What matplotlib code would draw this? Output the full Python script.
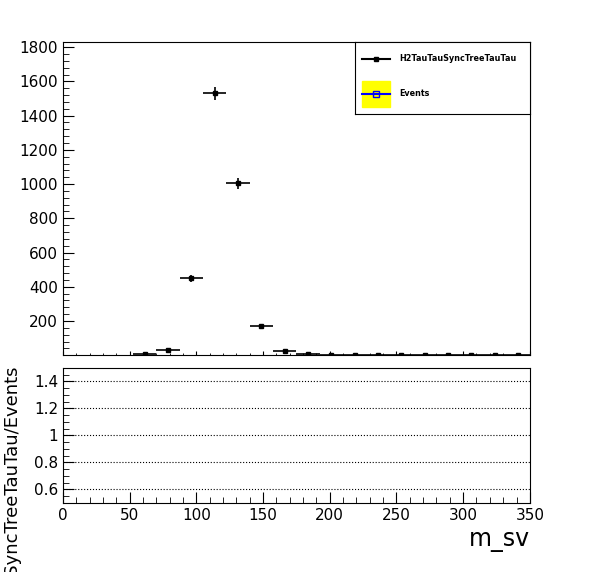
import numpy as np
import matplotlib.pyplot as plt
from matplotlib.patches import Rectangle
from matplotlib.lines import Line2D

# binned m_sv distribution, 20 bins of 17.5 from 0 to 350
bin_width = 17.5
bin_centers = np.arange(20) * bin_width + bin_width / 2
counts = [0, 0, 0, 5, 30, 450, 1530, 1005, 170, 25, 5, 3, 2, 2, 2, 0, 0, 0, 0, 0]
ratio_grid = [0.6, 0.8, 1.0, 1.2, 1.4]

fig = plt.figure(figsize=(5.96, 5.72), dpi=100)
ax1 = fig.add_axes([0.1057, 0.379, 0.7833, 0.5476])
ax2 = fig.add_axes([0.1057, 0.1206, 0.7833, 0.2364])

counts = np.array(counts, dtype=float)
mask = bin_centers > 50
ax1.errorbar(bin_centers[mask], counts[mask], xerr=bin_width / 2, yerr=np.sqrt(counts[mask]),
             fmt='s', color='black', ms=3, lw=1.2, capsize=0)
ax1.set_xlim(0, 350)
ax1.set_ylim(0, 1830)
ax1.set_yticks(range(200, 1801, 200))
ax1.set_yticks(range(0, 1830, 40), minor=True)
ax1.set_xticks(range(0, 351, 50))
ax1.set_xticks(range(0, 351, 10), minor=True)
ax1.set_xticklabels([])
ax1.tick_params(which='both', direction='in', top=False, right=False, labelsize=11)
ax1.tick_params(axis='y', which='major', length=8)
ax1.tick_params(axis='y', which='minor', length=4)
ax1.tick_params(axis='x', which='major', length=3)
ax1.tick_params(axis='x', which='minor', length=1.5)

# legend box drawn like ROOT
leg = fig.add_axes([355 / 596, 1 - 114 / 572, 175 / 596, 72 / 572])
leg.set_xlim(0, 1)
leg.set_ylim(0, 1)
leg.set_xticks([])
leg.set_yticks([])
leg.add_line(Line2D([0.04, 0.2], [0.77, 0.77], color='black', lw=1.5))
leg.plot([0.12], [0.77], 's', color='black', ms=3)
leg.text(0.25, 0.77, 'H2TauTauSyncTreeTauTau', fontsize=5.8, fontweight='bold', va='center')
leg.add_patch(Rectangle((0.04, 0.1), 0.16, 0.36, color='yellow'))
leg.add_line(Line2D([0.04, 0.2], [0.28, 0.28], color='blue', lw=1.5))
leg.plot([0.12], [0.28], 's', mfc='none', mec='blue', ms=4)
leg.text(0.25, 0.28, 'Events', fontsize=5.8, fontweight='bold', va='center')

ax2.set_xlim(0, 350)
ax2.set_ylim(0.5, 1.5)
for g in ratio_grid:
    ax2.axhline(g, color='black', ls=':', lw=0.8)
ax2.set_yticks(ratio_grid)
ax2.set_yticklabels(['0.6', '0.8', '1', '1.2', '1.4'])
ax2.set_yticks(np.arange(0.5, 1.5, 0.05), minor=True)
ax2.set_xticks(range(0, 351, 50))
ax2.set_xticks(range(0, 351, 10), minor=True)
ax2.tick_params(which='both', direction='in', top=False, right=False, labelsize=11)
ax2.tick_params(which='major', length=8)
ax2.tick_params(which='minor', length=4)
ax2.set_xlabel('m_sv', fontsize=17, loc='right')

# y label of ratio panel runs off the bottom of the canvas, as in the ROOT output
fig.text(0.003, 1 - 365 / 572, 'H2TauTauSyncTreeTauTau/Events', fontsize=13,
         rotation=90, rotation_mode='anchor', ha='right', va='top')

fig.savefig('out.png', dpi=100)
